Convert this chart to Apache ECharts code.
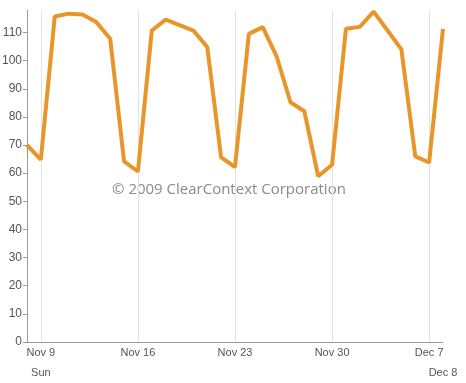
<!DOCTYPE html>
<html><head><meta charset="utf-8">
<script src="https://cdn.jsdelivr.net/npm/echarts@6/dist/echarts.min.js"></script>
<style>html,body{margin:0;padding:0;background:#fff}#c{width:466px;height:383px}</style>
</head><body><div id="c"></div>
<script>
const days = ["Nov 8","Nov 9","Nov 10","Nov 11","Nov 12","Nov 13","Nov 14","Nov 15","Nov 16","Nov 17","Nov 18","Nov 19","Nov 20","Nov 21","Nov 22","Nov 23","Nov 24","Nov 25","Nov 26","Nov 27","Nov 28","Nov 29","Nov 30","Dec 1","Dec 2","Dec 3","Dec 4","Dec 5","Dec 6","Dec 7","Dec 8"];
const values = [70,64.8,115.7,116.7,116.4,113.7,107.8,64.2,60.6,110.7,114.6,112.6,110.7,104.8,65.6,62.2,109.5,111.9,101.5,85.2,82,58.9,63,111.3,112,117.4,110.7,104,66,63.8,111.3];
const weekIdx = [1,8,15,22,29];
const secondRow = {1:"Sun",30:"Dec 8"};
const yTicks = [0,10,20,30,40,50,60,70,80,90,100,110];
const watermark = "© 2009 ClearContext Corporation";

const lbl = {color:'#555',fontSize:11,fontFamily:'Liberation Sans'};
const chart = echarts.init(document.getElementById('c'));
chart.setOption({
  animation:false,
  grid:{left:27,right:23,top:10,bottom:41,containLabel:false,outerBoundsMode:'none'},
  xAxis:[{
    type:'category',data:days,boundaryGap:false,
    axisLine:{lineStyle:{color:'#999',width:1}},
    axisTick:{show:false},
    axisLabel:Object.assign({interval:(i)=>weekIdx.includes(i),hideOverlap:false,margin:5},lbl),
    splitLine:{show:true,interval:(i)=>weekIdx.includes(i),lineStyle:{color:'#e2e2e2',width:1}}
  },{
    type:'category',data:days,boundaryGap:false,position:'bottom',
    axisLine:{show:false},axisTick:{show:false},splitLine:{show:false},
    axisLabel:Object.assign({interval:(i)=>(i in secondRow),showMaxLabel:true,margin:25,
      formatter:(v,i)=>secondRow[i]||''},lbl)
  }],
  yAxis:{
    type:'value',min:0,max:118,interval:10,
    axisLine:{show:true,lineStyle:{color:'#999',width:1}},
    axisTick:{show:true,length:4,customValues:yTicks,lineStyle:{color:'#999'}},
    axisLabel:Object.assign({margin:5,customValues:yTicks},lbl,{fontSize:12}),
    splitLine:{show:false}
  },
  graphic:[{type:'text',left:112,top:182,style:{text:watermark,fill:'#8a8a8a',font:'15px "Open Sans"'}}],
  series:[{type:'line',data:values,showSymbol:false,lineStyle:{color:'#E8962A',width:4},itemStyle:{color:'#E8962A'}}]
});
</script></body></html>
